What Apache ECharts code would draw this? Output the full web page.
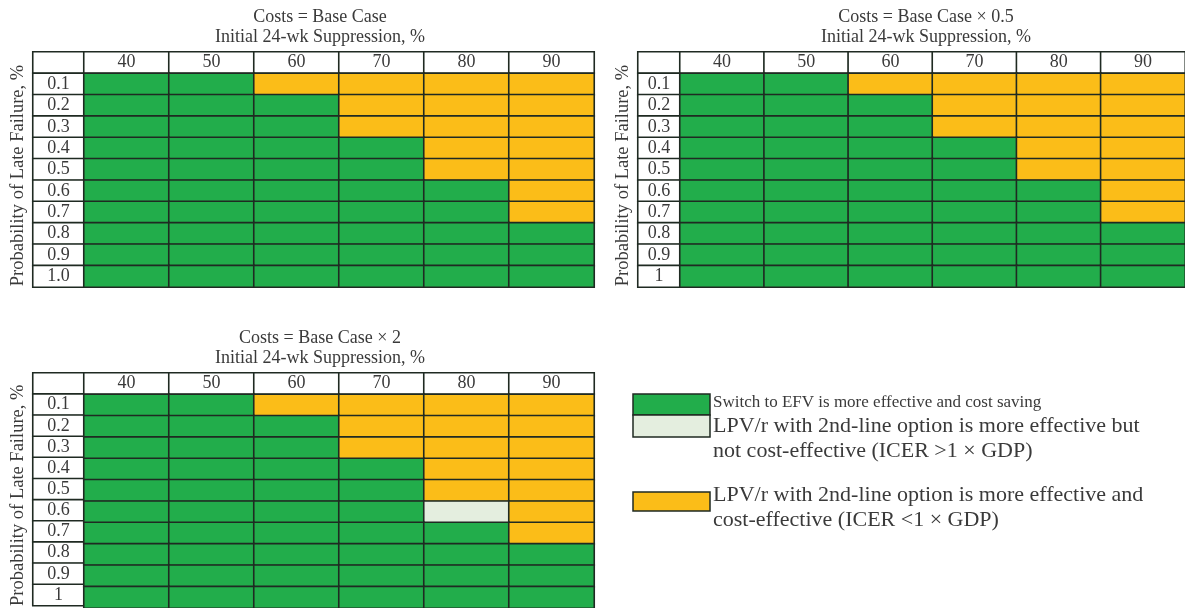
<!DOCTYPE html>
<html>
<head>
<meta charset="utf-8">
<script src="https://cdn.jsdelivr.net/npm/echarts@6/dist/echarts.min.js"></script>
<style>
html,body{margin:0;padding:0;background:#fff;}
#chart{width:1185px;height:608px;}
</style>
</head>
<body>
<div id="chart"></div>
<script>
// ---- data ----
const suppressionCols = ['40', '50', '60', '70', '80', '90'];
const rowsBase = ['0.1', '0.2', '0.3', '0.4', '0.5', '0.6', '0.7', '0.8', '0.9', '1.0'];
const rowsHalf = ['0.1', '0.2', '0.3', '0.4', '0.5', '0.6', '0.7', '0.8', '0.9', '1'];
const rowsDouble = ['0.1', '0.2', '0.3', '0.4', '0.5', '0.6', '0.7', '0.8', '0.9', '1'];
// G = switch to EFV (cost saving), L = LPV/r not cost-effective, O = LPV/r cost-effective
const baseCase = [
  ['G','G','O','O','O','O'],
  ['G','G','G','O','O','O'],
  ['G','G','G','O','O','O'],
  ['G','G','G','G','O','O'],
  ['G','G','G','G','O','O'],
  ['G','G','G','G','G','O'],
  ['G','G','G','G','G','O'],
  ['G','G','G','G','G','G'],
  ['G','G','G','G','G','G'],
  ['G','G','G','G','G','G']
];
const halfCost = [
  ['G','G','O','O','O','O'],
  ['G','G','G','O','O','O'],
  ['G','G','G','O','O','O'],
  ['G','G','G','G','O','O'],
  ['G','G','G','G','O','O'],
  ['G','G','G','G','G','O'],
  ['G','G','G','G','G','O'],
  ['G','G','G','G','G','G'],
  ['G','G','G','G','G','G'],
  ['G','G','G','G','G','G']
];
const doubleCost = [
  ['G','G','O','O','O','O'],
  ['G','G','G','O','O','O'],
  ['G','G','G','O','O','O'],
  ['G','G','G','G','O','O'],
  ['G','G','G','G','O','O'],
  ['G','G','G','G','L','O'],
  ['G','G','G','G','G','O'],
  ['G','G','G','G','G','G'],
  ['G','G','G','G','G','G'],
  ['G','G','G','G','G','G']
];
const panelTitles = ['Costs = Base Case', 'Costs = Base Case \u00d7 0.5', 'Costs = Base Case \u00d7 2'];
const xTitle = 'Initial 24-wk Suppression, %';
const yTitle = 'Probability of Late Failure, %';
const legendLabels = [
  'Switch to EFV is more effective and cost saving',
  'LPV/r with 2nd-line option is more effective but\nnot cost-effective (ICER >1 \u00d7 GDP)',
  'LPV/r with 2nd-line option is more effective and\ncost-effective (ICER <1 \u00d7 GDP)'
];

// ---- styles ----
const FONT = '"Liberation Serif", "DejaVu Serif", serif';
const TXT = '#3a3a3a';
const BORDER = '#1f2a22';
const COLORS = { G: '#22ad4b', L: '#e4eedf', O: '#fbbd18' };

const panels = [
  { rows: rowsBase, cells: baseCase, title: panelTitles[0], left: 33, top: 52, labelW: 51, colW: 85, height: 235, titleX: 320 },
  { rows: rowsHalf, cells: halfCost, title: panelTitles[1], left: 638, top: 52, labelW: 42, colW: 85, height: 235, titleX: 926 },
  { rows: rowsDouble, cells: doubleCost, title: panelTitles[2], left: 33, top: 373, labelW: 51, colW: 85, height: 235, titleX: 320 }
];

const grids = [], xAxes = [], yAxes = [], series = [], titles = [];
const cellStyle = { borderColor: BORDER, borderWidth: 1.6 };
const labelStyle = { show: true, color: TXT, fontFamily: FONT, fontSize: 18 };

panels.forEach((p, pi) => {
  const yCats = [''].concat(p.rows);
  // label grid
  const gL = grids.length;
  grids.push({ left: p.left, top: p.top, width: p.labelW, height: p.height });
  xAxes.push({ type: 'category', gridIndex: gL, data: [''], show: false });
  yAxes.push({
    type: 'category', gridIndex: gL, data: yCats, inverse: true,
    axisLine: { show: false }, axisTick: { show: false }, axisLabel: { show: false }, splitLine: { show: false },
    name: yTitle, nameLocation: 'middle', nameRotate: 90, nameGap: 5,
    nameTextStyle: { fontFamily: FONT, fontSize: 18.5, color: TXT, padding: [0, 12, 0, 0] }
  });
  // data grid
  const gD = grids.length;
  grids.push({ left: p.left + p.labelW, top: p.top, width: p.colW * suppressionCols.length, height: p.height });
  xAxes.push({ type: 'category', gridIndex: gD, data: suppressionCols, show: false });
  yAxes.push({ type: 'category', gridIndex: gD, data: yCats, inverse: true, show: false });

  const labelData = yCats.map((r, yi) => ({ value: [0, yi, 0], name: r, itemStyle: { color: '#ffffff' } }));
  series.push({
    type: 'heatmap', xAxisIndex: gL, yAxisIndex: gL, data: labelData,
    itemStyle: cellStyle, label: Object.assign({ formatter: (d) => d.name }, labelStyle),
    emphasis: { disabled: true }, silent: true
  });
  const dataCells = [];
  suppressionCols.forEach((c, xi) => {
    dataCells.push({ value: [xi, 0, 0], name: c, itemStyle: { color: '#ffffff' } });
  });
  p.cells.forEach((row, ri) => {
    row.forEach((code, xi) => {
      dataCells.push({ value: [xi, ri + 1, 1], name: '', itemStyle: { color: COLORS[code] } });
    });
  });
  series.push({
    type: 'heatmap', xAxisIndex: gD, yAxisIndex: gD, data: dataCells,
    itemStyle: cellStyle, label: Object.assign({ formatter: (d) => d.name }, labelStyle),
    emphasis: { disabled: true }, silent: true
  });

  titles.push({ text: p.title, left: p.titleX, top: p.top - 44, textAlign: 'center', padding: 0,
    textStyle: { fontFamily: FONT, fontSize: 18, fontWeight: 'normal', color: TXT } });
  titles.push({ text: xTitle, left: p.titleX, top: p.top - 24, textAlign: 'center', padding: 0,
    textStyle: { fontFamily: FONT, fontSize: 18, fontWeight: 'normal', color: TXT } });
});

// ---- legend (graphic) ----
const LX = 633, LW = 77;
const graphic = [
  { type: 'rect', shape: { x: LX, y: 394, width: LW, height: 21 }, style: { fill: COLORS.G, stroke: BORDER, lineWidth: 1.5 } },
  { type: 'rect', shape: { x: LX, y: 415, width: LW, height: 22 }, style: { fill: COLORS.L, stroke: BORDER, lineWidth: 1.5 } },
  { type: 'rect', shape: { x: LX, y: 492, width: LW, height: 19 }, style: { fill: COLORS.O, stroke: BORDER, lineWidth: 1.5 } },
  { type: 'text', x: 713, y: 403, style: { text: legendLabels[0], font: '17px ' + FONT, fill: TXT, verticalAlign: 'middle' } },
  { type: 'text', x: 713, y: 414, style: { text: legendLabels[1], font: '22px ' + FONT, fill: TXT, lineHeight: 25, verticalAlign: 'top' } },
  { type: 'text', x: 713, y: 483, style: { text: legendLabels[2], font: '22px ' + FONT, fill: TXT, lineHeight: 25, verticalAlign: 'top' } }
];

const chart = echarts.init(document.getElementById('chart'));
chart.setOption({
  animation: false,
  backgroundColor: '#ffffff',
  title: titles,
  grid: grids,
  xAxis: xAxes,
  yAxis: yAxes,
  series: series,
  graphic: graphic
});
</script>
</body>
</html>
